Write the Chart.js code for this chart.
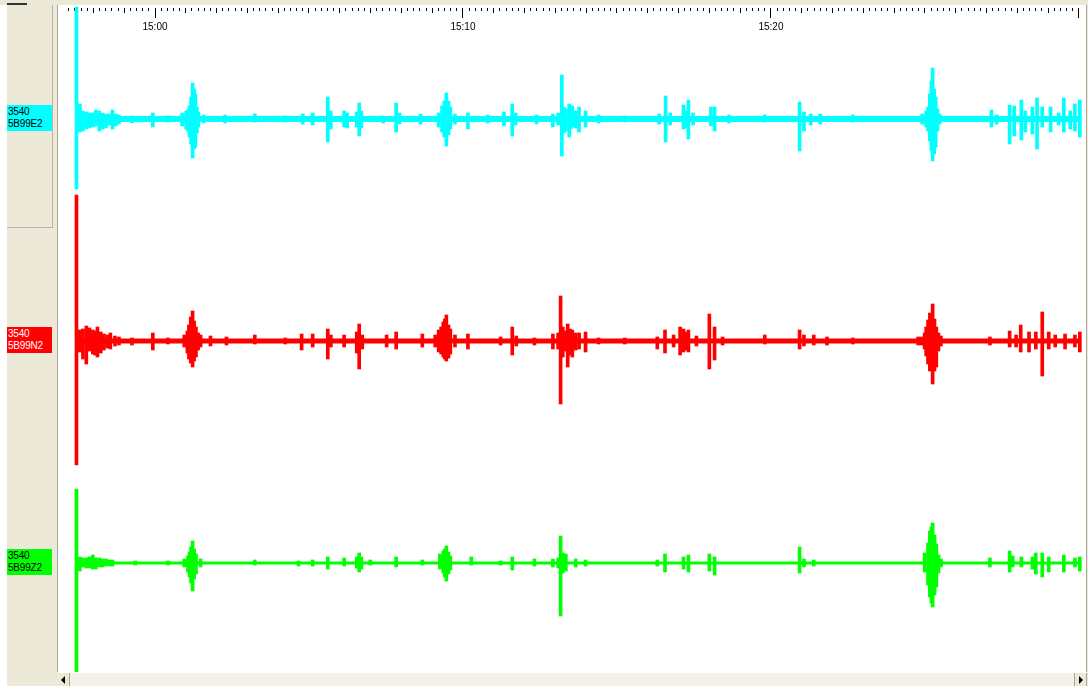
<!DOCTYPE html>
<html>
<head>
<meta charset="utf-8">
<script src="https://cdn.jsdelivr.net/npm/chart.js@4.4.0/dist/chart.umd.min.js"></script>
<style>
  html, body { margin: 0; padding: 0; }
  body { width: 1088px; height: 686px; background: #ece9d8; position: relative; overflow: hidden;
         font-family: "Liberation Sans", Arial, sans-serif; }
  .abs { position: absolute; }
  #leftWhite { left: 0; top: 5px; width: 7px; height: 681px; background: #fff; }
  #topLine { left: 7px; top: 3px; width: 20px; height: 2px; background: #333; }
  #innerPanel { left: 7px; top: 5px; width: 45px; height: 222px; border-right: 1px solid #b9b6a8; border-bottom: 1px solid #b9b6a8; }
  #divider { left: 57px; top: 5px; width: 1px; height: 667px; background: #aca899; }
  #plot { left: 58px; top: 5px; width: 1028px; height: 667px; background: #fff; }
  #rightEdge { left: 1086px; top: 5px; width: 1px; height: 681px; background: #aca899; }
  .chan { left: 7px; width: 45px; height: 26px; font-size: 10px; line-height: 12px; padding: 1px 0 0 1px;
          box-sizing: border-box; letter-spacing: -0.2px; }
  #hscroll { left: 58px; top: 672px; width: 1029px; height: 14px; background: #f3f1e8; border-top: 1px solid #fff; box-sizing: border-box; }
  .btn { position: absolute; top: 0; width: 11px; height: 13px; background: #ece9d8; }
  .btn.l { left: 0; border-right: 1px solid #aca899; }
  .btn.r { right: 0; border-left: 1px solid #aca899; border-right: 1px solid #aca899; }
  .tri { position: absolute; top: 3px; width: 0; height: 0; border-top: 4px solid transparent; border-bottom: 4px solid transparent; }
  .btn.l .tri { left: 3px; border-right: 4px solid #000; }
  .btn.r .tri { left: 4px; border-left: 4px solid #000; }
</style>
</head>
<body>
<div id="leftWhite" class="abs"></div>
<div id="topLine" class="abs"></div>
<div id="innerPanel" class="abs"></div>
<div id="divider" class="abs"></div>
<div id="plot" class="abs"><canvas id="seis" width="1028" height="667"></canvas></div>
<div id="rightEdge" class="abs"></div>
<div id="hscroll" class="abs">
  <div class="btn l"><span class="tri"></span></div>
  <div class="btn r"><span class="tri"></span></div>
</div>
<script>
// time axis in minutes relative to 15:00
const tickMinutes = [0, 10, 20];
const tickLabels = ["15:00", "15:10", "15:20"];
const timeMin = -3.15, timeMax = 30.23;
const traceStart = -2.55, traceEnd = 30.03;

const stations = ["3540", "3540", "3540"];
const channels = ["5B99E2", "5B99N2", "5B99Z2"];
const colors = ["#00ffff", "#ff0000", "#00ff00"];
const textColors = ["#000", "#fff", "#000"];
const offsets = [222, 0, -222];

// envelope of each trace: time (min), peak above baseline, peak below baseline
const cyanT = [-2.55, -2.49, -2.44, -2.34, -2.23, -2.13, -2.02, -1.92, -1.81, -1.70,
  -1.59, -1.48, -1.38, -1.27, -1.17, -0.75, -0.07, 0.42, 0.88, 1.01,
  1.07, 1.12, 1.17, 1.22, 1.27, 1.31, 1.36, 1.41, 1.58, 2.28,
  3.24, 4.23, 4.80, 5.12, 5.61, 5.71, 6.14, 6.24, 6.55, 6.63,
  6.70, 7.41, 7.83, 7.94, 8.62, 9.21, 9.32, 9.39, 9.46, 9.53,
  9.59, 9.74, 10.16, 10.80, 11.33, 11.60, 11.71, 12.39, 12.92, 13.09,
  13.21, 13.28, 13.34, 13.45, 13.50, 13.55, 13.66, 13.77, 13.98, 14.40,
  15.25, 16.37, 16.58, 16.73, 17.16, 17.24, 17.32, 17.47, 18.05, 18.17,
  18.64, 19.80, 20.93, 21.07, 21.29, 21.60, 22.66, 24.91, 25.04, 25.10,
  25.16, 25.21, 25.25, 25.30, 25.35, 25.41, 25.48, 27.16, 27.33, 27.75,
  27.90, 28.13, 28.26, 28.49, 28.64, 28.81, 29.08, 29.34, 29.51, 29.72,
  29.87, 30.03];
const cyanHi = [112, 10, 15, 8, 7, 6, 6, 9, 8, 6,
  5, 5, 9, 5, 4, 3, 6, 3, 6, 8,
  9, 13, 22, 36, 30, 25, 12, 7, 4, 4,
  5, 3, 5, 6, 22, 8, 8, 6, 7, 16,
  8, 3, 16, 6, 5, 6, 13, 18, 26, 18,
  12, 5, 6, 4, 7, 15, 6, 4, 5, 6,
  44, 12, 10, 15, 9, 13, 8, 12, 8, 4,
  3, 5, 23, 6, 14, 8, 19, 6, 12, 12,
  4, 4, 17, 7, 5, 5, 4, 5, 8, 12,
  25, 38, 51, 30, 22, 10, 5, 9, 4, 14,
  13, 19, 8, 12, 21, 12, 12, 6, 21, 8,
  15, 19];
const cyanLo = [70, 9, 13, 12, 10, 9, 8, 7, 12, 10,
  9, 6, 10, 7, 5, 4, 8, 3, 7, 10,
  12, 18, 25, 39, 30, 28, 14, 8, 4, 4,
  3, 3, 5, 6, 23, 10, 8, 9, 8, 17,
  9, 4, 13, 5, 5, 8, 13, 18, 27, 16,
  10, 5, 10, 4, 7, 17, 6, 5, 8, 6,
  37, 14, 12, 18, 10, 8, 9, 13, 8, 4,
  3, 5, 23, 6, 10, 9, 20, 6, 7, 12,
  4, 3, 32, 12, 6, 5, 3, 5, 8, 12,
  22, 32, 42, 35, 28, 12, 5, 8, 5, 25,
  17, 21, 13, 15, 30, 8, 13, 6, 13, 10,
  12, 18];

const redT = [-2.55, -2.49, -2.44, -2.34, -2.23, -2.13, -2.02, -1.95, -1.87, -1.76,
  -1.66, -1.55, -1.45, -1.30, -1.17, -0.75, -0.07, 0.42, 0.95, 1.05,
  1.10, 1.16, 1.22, 1.27, 1.33, 1.40, 1.48, 1.80, 2.32, 3.24,
  4.23, 4.76, 5.12, 5.61, 5.71, 6.14, 6.55, 6.63, 6.73, 7.52,
  7.83, 8.68, 9.10, 9.21, 9.29, 9.36, 9.41, 9.46, 9.53, 9.59,
  9.74, 10.16, 11.22, 11.60, 11.73, 12.32, 12.92, 13.09, 13.17, 13.24,
  13.30, 13.40, 13.47, 13.55, 13.66, 13.77, 13.98, 14.40, 15.25, 16.31,
  16.56, 16.84, 17.05, 17.16, 17.24, 17.32, 17.58, 18.00, 18.17, 18.43,
  19.80, 20.93, 21.07, 21.39, 21.82, 22.66, 24.78, 24.89, 24.99, 25.04,
  25.10, 25.16, 25.25, 25.31, 25.37, 25.44, 25.52, 27.11, 27.75, 27.96,
  28.11, 28.38, 28.60, 28.81, 29.02, 29.23, 29.55, 29.87, 30.03];
const redHi = [146, 9, 11, 12, 15, 13, 11, 10, 14, 9,
  7, 6, 8, 5, 4, 3, 8, 3, 6, 10,
  16, 24, 30, 20, 14, 8, 6, 5, 4, 6,
  3, 7, 7, 12, 6, 6, 9, 17, 6, 6,
  9, 7, 6, 11, 14, 19, 22, 26, 16, 12,
  6, 7, 4, 14, 5, 3, 7, 8, 45, 14,
  10, 17, 12, 11, 8, 8, 9, 3, 3, 4,
  11, 6, 14, 12, 9, 11, 5, 27, 14, 4,
  6, 11, 6, 6, 4, 3, 4, 4, 8, 14,
  21, 28, 37, 22, 14, 8, 5, 4, 10, 6,
  16, 9, 9, 29, 9, 6, 7, 6, 9];
const redLo = [124, 8, 11, 18, 23, 10, 13, 14, 16, 12,
  9, 7, 8, 5, 4, 4, 9, 3, 6, 12,
  18, 22, 26, 20, 16, 9, 6, 5, 4, 3,
  3, 9, 6, 18, 6, 6, 12, 28, 8, 6,
  8, 6, 6, 11, 13, 16, 18, 20, 17, 13,
  6, 8, 4, 14, 5, 4, 8, 8, 63, 16,
  10, 26, 14, 16, 9, 8, 11, 3, 3, 8,
  12, 6, 14, 11, 9, 11, 5, 28, 19, 4,
  3, 8, 5, 4, 4, 3, 4, 4, 8, 15,
  23, 30, 43, 30, 26, 10, 5, 4, 6, 6,
  11, 11, 8, 35, 8, 6, 8, 6, 11];

const greenT = [-2.55, -2.49, -2.44, -2.34, -2.23, -2.13, -2.02, -1.92, -1.81, -1.70,
  -1.59, -1.48, -1.38, -0.64, 0.42, 0.95, 1.07, 1.12, 1.17, 1.22,
  1.27, 1.33, 1.48, 3.24, 4.66, 5.12, 5.61, 6.14, 6.55, 6.63,
  6.70, 6.99, 7.83, 8.68, 9.25, 9.36, 9.41, 9.46, 9.53, 9.59,
  10.27, 11.22, 11.60, 12.32, 12.92, 13.09, 13.17, 13.24, 13.34, 13.66,
  13.98, 16.31, 16.56, 17.16, 17.32, 18.00, 18.17, 20.93, 21.07, 21.39,
  24.99, 25.10, 25.16, 25.21, 25.25, 25.31, 25.37, 25.44, 25.52, 27.11,
  27.75, 27.85, 28.13, 28.49, 28.60, 28.81, 29.02, 29.51, 29.87, 30.03];
const greenHi = [74, 4, 6, 5, 5, 6, 8, 5, 5, 4,
  4, 3, 3, 2, 2, 4, 7, 11, 16, 22,
  14, 9, 4, 3, 2, 3, 6, 5, 6, 10,
  6, 3, 6, 3, 9, 12, 14, 17, 11, 7,
  6, 2, 6, 4, 4, 5, 27, 10, 9, 4,
  3, 3, 9, 6, 8, 9, 6, 16, 4, 3,
  10, 20, 32, 36, 40, 28, 19, 8, 4, 5,
  12, 7, 6, 6, 10, 10, 6, 8, 5, 6];
const greenLo = [110, 5, 8, 4, 5, 5, 6, 6, 4, 4,
  3, 3, 3, 2, 2, 4, 9, 14, 20, 28,
  16, 11, 4, 2, 3, 3, 6, 3, 5, 9,
  6, 2, 4, 2, 6, 10, 14, 18, 11, 7,
  2, 2, 7, 3, 4, 5, 53, 10, 8, 4,
  3, 3, 9, 6, 9, 8, 12, 10, 4, 3,
  9, 22, 34, 40, 44, 32, 24, 10, 4, 4,
  9, 4, 4, 6, 11, 14, 9, 9, 4, 8];

const baseWidths = [6, 5, 3];

function traceSets(times, hi, lo, k) {
  const off = offsets[k];
  return [
    {
      type: "line",
      data: [{ x: traceStart, y: off }, { x: traceEnd, y: off }],
      borderColor: colors[k], borderWidth: baseWidths[k], pointRadius: 0
    },
    {
      type: "bar",
      data: times.map((t, i) => ({ x: t, y: [off - lo[i], off + hi[i]] })),
      backgroundColor: colors[k], barThickness: 3, grouped: false, clip: false
    }
  ];
}

Chart.defaults.font.family = '"Liberation Sans", Arial, sans-serif';

const chart = new Chart(document.getElementById("seis"), {
  type: "bar",
  data: {
    datasets: [
      ...traceSets(cyanT, cyanHi, cyanLo, 0),
      ...traceSets(redT, redHi, redLo, 1),
      ...traceSets(greenT, greenHi, greenLo, 2)
    ]
  },
  options: {
    responsive: false,
    animation: false,
    events: [],
    layout: { padding: { top: 3 } },
    plugins: { legend: { display: false }, tooltip: { enabled: false } },
    scales: {
      x: {
        type: "linear", position: "top", weight: 2, min: timeMin, max: timeMax, offset: false,
        border: { display: false },
        grid: {
          offset: false, drawOnChartArea: false, tickLength: 10, tickColor: "#000", tickWidth: 1,
          tickBorderDash: ctx => {
            const v = ctx.tick ? ctx.tick.value : 0;
            const m = Math.round(v);
            if (Math.abs(v - m) < 1e-6) return m % 10 === 0 ? [10, 0] : [5, 20];
            return [3, 20];
          }
        },
        ticks: { display: false, stepSize: 0.2 },
        afterBuildTicks: s => { s.ticks = s.ticks.filter(t => Math.abs(t.value * 5 - Math.round(t.value * 5)) < 1e-6); },
        afterFit: s => { s.height = 10; }
      },
      x2: {
        type: "linear", position: "top", weight: 1, min: timeMin, max: timeMax, offset: false,
        border: { display: false },
        grid: { display: false, drawTicks: false },
        ticks: {
          color: "#000", font: { size: 10 }, padding: 1, maxRotation: 0, autoSkip: false,
          callback: v => tickLabels[tickMinutes.indexOf(v)]
        },
        afterBuildTicks: s => { s.ticks = tickMinutes.map(v => ({ value: v })); },
        afterFit: s => { s.height = 16; }
      },
      y: { display: false, min: -331, max: 307 }
    }
  }
});

// channel label boxes next to each trace baseline
const plotTop = 5;
offsets.forEach((off, k) => {
  const d = document.createElement("div");
  d.className = "chan abs";
  d.style.top = (plotTop + chart.scales.y.getPixelForValue(off) - 14) + "px";
  d.style.background = colors[k];
  d.style.color = textColors[k];
  d.innerHTML = stations[k] + "<br>" + channels[k];
  document.body.appendChild(d);
});
</script>
</body>
</html>
